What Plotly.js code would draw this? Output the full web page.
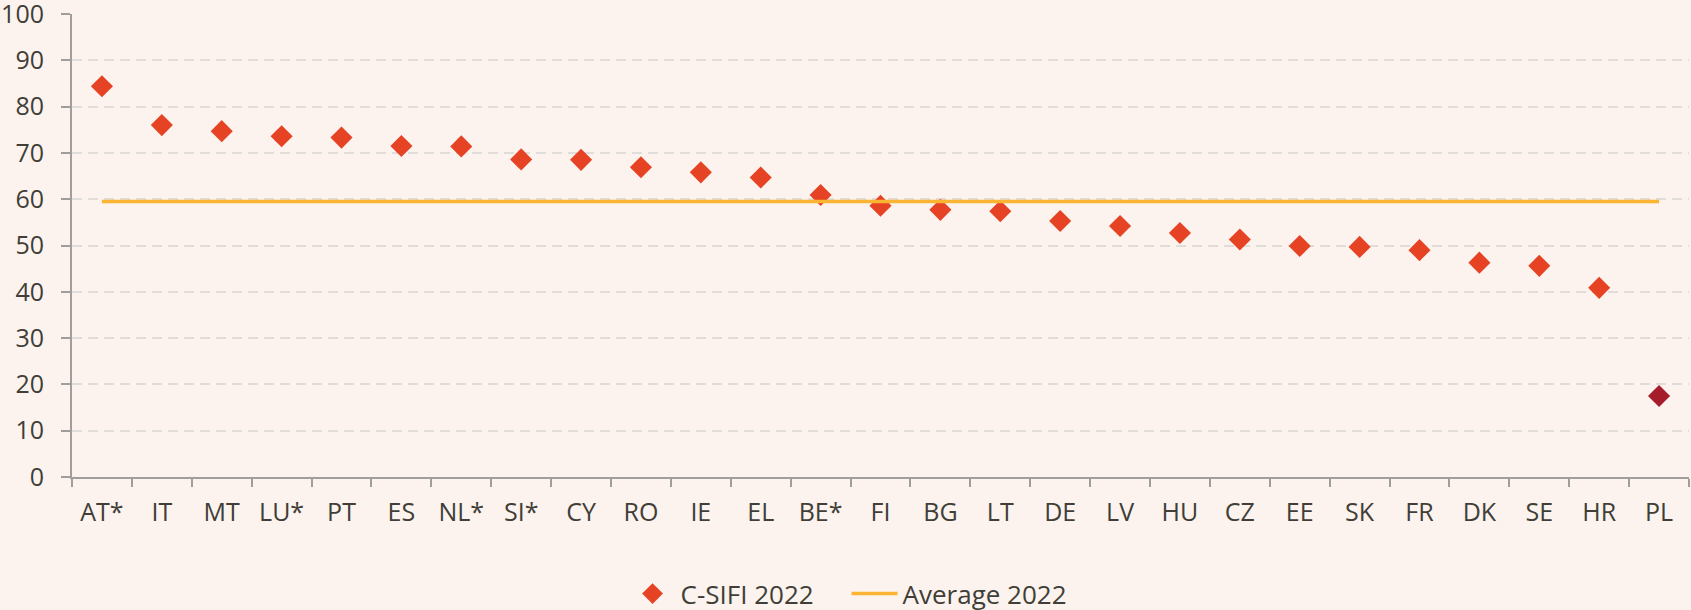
<!DOCTYPE html>
<html>
<head>
<meta charset="utf-8">
<script src="https://cdn.plot.ly/plotly-3.0.1.min.js"></script>
<style>html,body{margin:0;padding:0;background:#fcf3ee;}#chart{width:1691px;height:610px;}</style>
</head>
<body>
<div id="chart"></div>
<script>
const countries = ["AT*","IT","MT","LU*","PT","ES","NL*","SI*","CY","RO","IE","EL","BE*","FI","BG","LT","DE","LV","HU","CZ","EE","SK","FR","DK","SE","HR","PL"];
const csifi2022 = [84.4,76.0,74.7,73.6,73.3,71.5,71.4,68.6,68.5,66.9,65.8,64.7,60.9,58.6,57.7,57.4,55.3,54.2,52.7,51.3,49.9,49.7,49.0,46.3,45.6,40.85,17.5];
const average2022 = 59.5;
const highlighted = ["PL"];

const baseColor = "#e64325";
const highlightColor = "#a51c2a";
const markerColors = countries.map(c => highlighted.includes(c) ? highlightColor : baseColor);
const avgLine = countries.map(() => average2022);

const font = {family: "Open Sans, sans-serif", size: 25, color: "#403e37"};
const legendFont = {family: "Open Sans, sans-serif", size: 26, color: "#403e37"};

const traces = [
  {
    x: countries, y: csifi2022, type: "scatter", mode: "markers", name: "C-SIFI 2022",
    marker: {symbol: "diamond", size: 17, color: markerColors, line: {width: 0}},
    hoverinfo: "x+y"
  },
  {
    x: countries, y: avgLine, type: "scatter", mode: "lines", name: "Average 2022",
    line: {color: "#fbb532", width: 3.5}
  }
];

const layout = {
  width: 1691, height: 610,
  paper_bgcolor: "#fcf3ee", plot_bgcolor: "#fcf3ee",
  font: font,
  margin: {l: 72, r: 2, t: 14, b: 133, pad: 0, autoexpand: false},
  showlegend: true,
  legend: {orientation: "h", x: 0.479, xanchor: "center", y: -0.252, yanchor: "middle",
           font: legendFont, bgcolor: "rgba(0,0,0,0)", traceorder: "normal", itemwidth: 46,
           entrywidth: 161, maxheight: 300},
  xaxis: {
    type: "category", range: [-0.5, countries.length - 0.5],
    tickson: "boundaries", ticks: "outside", ticklen: 8, tickwidth: 2, tickcolor: "#a09e9c",
    showline: true, linecolor: "#a09e9c", linewidth: 2,
    showgrid: false, zeroline: false, tickfont: font, ticklabelstandoff: 12
  },
  yaxis: {
    range: [0, 100], dtick: 10, tick0: 0,
    ticks: "outside", ticklen: 9, tickwidth: 2, tickcolor: "#a09e9c",
    showline: true, linecolor: "#a09e9c", linewidth: 2,
    showgrid: true, gridcolor: "#dfdcda", gridwidth: 2, griddash: "10px,6px",
    zeroline: false, tickfont: font, ticklabelstandoff: 12, ticklabeloverflow: "allow"
  }
};

Plotly.newPlot("chart", traces, layout, {staticPlot: true, displayModeBar: false});
</script>
</body>
</html>
